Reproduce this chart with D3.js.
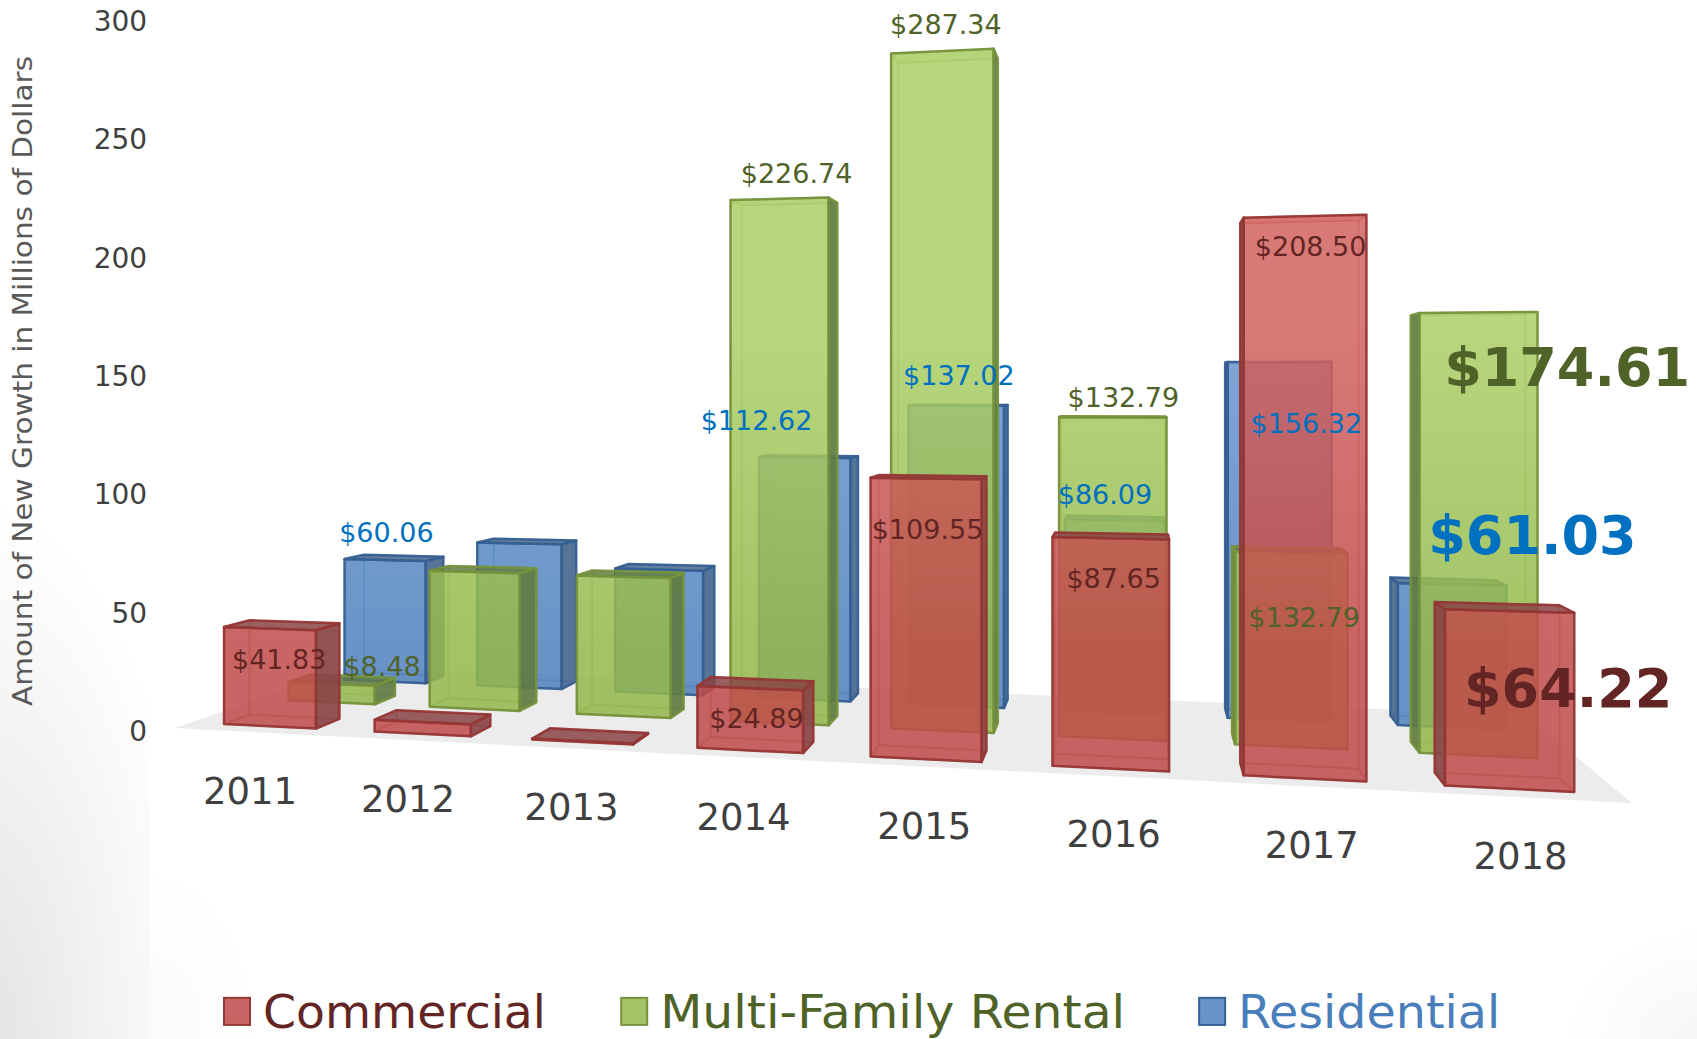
<!DOCTYPE html>
<html><head><meta charset="utf-8">
<script src="https://cdn.jsdelivr.net/npm/d3@7"></script>
<style>html,body{margin:0;padding:0;background:#fff;overflow:hidden}svg{display:block}text{font-family:"DejaVu Sans",sans-serif}</style>
</head><body><svg id="c" width="1697" height="1039"></svg>
<script>
const categories = ["2011","2012","2013","2014","2015","2016","2017","2018"];
const seriesNames = ["Commercial","Multi-Family Rental","Residential"];
const commercial = [41.83,5,0.4,24.89,109.55,87.65,208.5,64.22];
const multiFamily = [8.48,61.8,61.5,226.74,287.34,132.79,78.5,174.61];
const residential = [60.06,69.7,58.7,112.62,137.02,86.09,156.32,61.03];
const commercialLabels = ["$41.83","","","$24.89","$109.55","$87.65","$208.50","$64.22"];
const multiFamilyLabels = ["$8.48","","","$226.74","$287.34","$132.79","$132.79","$174.61"];
const residentialLabels = ["$60.06","","","$112.62","$137.02","$86.09","$156.32","$61.03"];
const valueTicks = [0,50,100,150,200,250,300];

// layout (in units of the 1568-wide view)
const K = 1697/1568;
const commercialSpots = [[258,618],[0,0],[0,0],[699,673],[857,498],[1029,543],[1211,237],[1449,653]];
const multiFamilySpots = [[353,625],[0,0],[0,0],[736,169],[874,31],[1038,376],[1205,579],[1448,357]];
const residentialSpots = [[357,501],[0,0],[0,0],[699,397],[886,356],[1021,466],[1207,400],[1416,512]];
const yearSpots = [[231,743],[377,750],[528,758],[687,767],[854,775],[1029,783],[1212,793],[1405,803]];

const styles = [
 {base:"#c04b4a",light:"#d26360",side:"#8a4446",stroke:"#953735",text:"#632523",swatch:"#c96665"},
 {base:"#94b74b",light:"#accf67",side:"#607c42",stroke:"#76923c",text:"#4f6228",swatch:"#a4c266"},
 {base:"#5081be",light:"#6b97cf",side:"#47688f",stroke:"#366092",text:"#0070c0",swatch:"#6a94c8"}
];

// two-point perspective camera fitted to the picture
const cam = {c:848,H:360,F:1169,sin:.1703,cos:.9854,x0:-313.7,z0:534.5,h:143};
function project(X,v,Z){
  const xc = cam.x0 + X*cam.cos + Z*cam.sin;
  const zc = cam.z0 - X*cam.sin + Z*cam.cos;
  return [K*(cam.c + cam.F*xc/zc), K*(cam.H + cam.F*(cam.h - v)/zc)];
}
const floorW = 569, floorD = 120;
const xBand = d3.scaleBand().domain(categories).range([0,floorW]).paddingInner(.384).paddingOuter(.22);
const zBand = d3.scaleBand().domain(seriesNames).range([9.5,109]).paddingInner(.62).paddingOuter(0);
const yVal = d3.scaleLinear().domain([0,300]).range([0,297.5]);
const yAxisScale = d3.scaleLinear().domain([0,300]).range([K*675+1,K*19+1]);

const svg = d3.select("#c");
const defs = svg.append("defs");
// page shading
function shade(id,tx,ty,sx,sy,c0,c1){
  const g = defs.append("radialGradient").attr("id",id).attr("gradientUnits","userSpaceOnUse")
    .attr("cx",0).attr("cy",0).attr("r",1).attr("gradientTransform",`translate(${tx},${ty}) scale(${sx},${sy})`);
  g.append("stop").attr("offset",0).attr("stop-color",c0);
  g.append("stop").attr("offset",1).attr("stop-color",c1);
}
shade("bg",-20,1050,220,550,"#e2e2e2","#ffffff");
shade("bg2",150,1039,110,170,"#fafafa","#ffffff");
shade("bg3",1697,1039,130,110,"#f6f6f6","#ffffff");
svg.append("rect").attr("width",1697).attr("height",1039).attr("fill","#fff");
svg.append("rect").attr("x",0).attr("y",450).attr("width",150).attr("height",589).attr("fill","url(#bg)");
svg.append("rect").attr("x",150).attr("y",860).attr("width",120).attr("height",179).attr("fill","url(#bg2)");
svg.append("rect").attr("x",1560).attr("y",920).attr("width",137).attr("height",119).attr("fill","url(#bg3)");

styles.forEach((s,i)=>{
  const g = defs.append("linearGradient").attr("id","g"+i).attr("gradientUnits","userSpaceOnUse")
    .attr("x1",0).attr("x2",0).attr("y1",K*300).attr("y2",K*600);
  g.append("stop").attr("offset",0).attr("stop-color",s.light);
  g.append("stop").attr("offset",1).attr("stop-color",s.base);
});

const line = d3.line();
const closed = pts => line(pts)+"Z";
// floor
svg.append("path").attr("fill","#ececec")
  .attr("d",closed([project(0,0,0),project(floorW,0,0),project(floorW,0,floorD),project(0,0,floorD)]));

const rows = [
 {i:2,vals:residential,name:seriesNames[2]},
 {i:1,vals:multiFamily,name:seriesNames[1]},
 {i:0,vals:commercial,name:seriesNames[0]}
];
rows.forEach(r=>{
  const s = styles[r.i];
  const layer = svg.append("g").attr("class","series-"+r.i);
  const bars = layer.selectAll("g").data(categories.map((c,j)=>({c,v:r.vals[j]}))).join("g");
  bars.each(function(d){
    const g = d3.select(this);
    const x0 = xBand(d.c), x1 = x0+xBand.bandwidth();
    const z0 = zBand(r.name), z1 = z0+zBand.bandwidth();
    const v = yVal(d.v);
    const fl=project(x0,0,z0), fr=project(x1,0,z0), ft=project(x1,v,z0), tl=project(x0,v,z0);
    const bl=project(x0,0,z1), br=project(x1,0,z1), bt=project(x1,v,z1), btl=project(x0,v,z1);
    const face=(pts,fill,op,sop,sw)=>g.append("path").attr("d",closed(pts))
      .attr("fill",fill).attr("fill-opacity",op).attr("stroke",s.stroke)
      .attr("stroke-opacity",sop).attr("stroke-width",sw).attr("stroke-linejoin","round");
    const rightOut = br[0]>fr[0], leftOut = bl[0]<fl[0], topOut = btl[1]<tl[1];
    face([bl,br,bt,btl],s.base,.02,.22,2);          // back
    face([fl,fr,br,bl],s.base,.03,.3,2);           // bottom
    if(!leftOut) face([fl,bl,btl,tl],s.light,.02,.25,2);
    if(!rightOut) face([fr,br,bt,ft],s.light,.02,.25,2);
    if(!topOut) face([tl,ft,bt,btl],s.light,.2,.45,2);
    face([fl,fr,ft,tl],"url(#g"+r.i+")",.85,.95,2.5);
    if(leftOut) face([fl,bl,btl,tl],s.side,.92,.95,2.5);
    if(rightOut) face([fr,br,bt,ft],s.side,.92,.95,2.5);
    if(topOut) face([tl,ft,bt,btl],s.side,.85,.95,2.5);
  });
});

// value labels
function labels(texts,spots,i){
  svg.append("g").selectAll("text").data(texts.map((t,j)=>({t,p:spots[j],j})).filter(d=>d.t!=="")).join("text")
    .attr("x",d=>K*d.p[0]).attr("y",d=>K*d.p[1]).attr("text-anchor","middle")
    .attr("fill",styles[i].text)
    .attr("font-size",d=>d.j===7?54:27).attr("font-weight",d=>d.j===7?"bold":"normal")
    .text(d=>d.t);
}
labels(residentialLabels,residentialSpots,2);
labels(multiFamilyLabels,multiFamilySpots,1);
labels(commercialLabels,commercialSpots,0);

// value axis
const axis = svg.append("g").attr("transform",`translate(${K*136+9},0)`)
  .call(d3.axisLeft(yAxisScale).tickValues(valueTicks).tickSize(0).tickPadding(9));
axis.select(".domain").remove();
axis.selectAll("text").attr("font-size",28).attr("fill","#404040").style("font-family",'"DejaVu Sans",sans-serif');

svg.append("text").attr("transform",`translate(${K*30},${K*352}) rotate(-90)`)
  .attr("text-anchor","middle").attr("font-size",26).attr("fill","#595959")
  .attr("textLength",650).attr("lengthAdjust","spacingAndGlyphs")
  .text("Amount of New Growth in Millions of Dollars");

// year labels
svg.append("g").selectAll("text").data(categories).join("text")
  .attr("x",(d,i)=>K*yearSpots[i][0]).attr("y",(d,i)=>K*yearSpots[i][1])
  .attr("text-anchor","middle").attr("font-size",37).attr("fill","#404040").text(d=>d);

// legend
const legendX = [[207,243],[574,610],[1108,1144]];
const legendColors = ["#632523","#4f6228","#4a7ebb"];
const legendW = [283,465,262];
const lg = svg.append("g");
seriesNames.forEach((n,i)=>{
  lg.append("rect").attr("x",K*legendX[i][0]).attr("y",K*922).attr("width",K*24).attr("height",K*25)
    .attr("fill",styles[i].swatch).attr("stroke",styles[i].stroke).attr("stroke-width",2);
  lg.append("text").attr("x",K*legendX[i][1]).attr("y",K*950).attr("font-size",47)
    .attr("fill",legendColors[i]).attr("textLength",legendW[i]).attr("lengthAdjust","spacingAndGlyphs").text(n);
});
</script></body></html>
